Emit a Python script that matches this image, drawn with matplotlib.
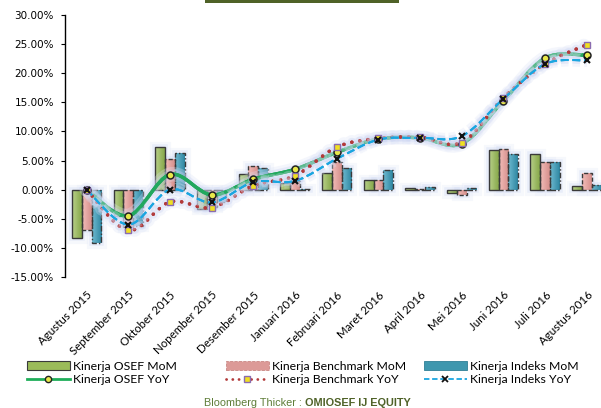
import numpy as np
import matplotlib
matplotlib.use("Agg")
import matplotlib.pyplot as plt
from matplotlib.path import Path
from matplotlib.patches import PathPatch, Patch, Rectangle
from matplotlib.lines import Line2D
from matplotlib.colors import LinearSegmentedColormap
from matplotlib.ticker import FuncFormatter
import matplotlib.patheffects as pe

# Data (persen)
bulan = ["Agustus 2015", "September 2015", "Oktober 2015", "Nopember 2015",
         "Desember 2015", "Januari 2016", "Februari 2016", "Maret 2016",
         "April 2016", "Mei 2016", "Juni 2016", "Juli 2016", "Agustus 2016"]

osef_mom = [-8.3, -4.6, 7.3, -3.3, 2.7, 1.1, 2.8, 1.7, 0.3, -0.6, 6.8, 6.1, 0.7]
bench_mom = [-6.9, -6.4, 5.3, -3.0, 4.1, 1.5, 4.7, 1.7, 0.1, -1.0, 7.0, 4.7, 2.8]
indeks_mom = [-9.1, -6.2, 6.3, -2.2, 3.7, 0.2, 3.7, 3.3, 0.4, 0.3, 6.2, 4.8, 0.8]

osef_yoy = [0.0, -4.5, 2.6, -0.9, 1.8, 3.5, 6.4, 8.7, 8.9, 7.9, 15.3, 22.6, 23.1]
bench_yoy = [0.0, -7.0, -2.1, -3.1, 0.7, 2.4, 7.3, 8.8, 9.0, 8.1, 15.8, 21.6, 24.9]
indeks_yoy = [0.0, -6.0, 0.0, -2.2, 1.3, 1.5, 5.3, 8.6, 8.9, 9.2, 15.6, 21.6, 22.2]

W, H = 601, 408
fig = plt.figure(figsize=(W / 100, H / 100), dpi=100)
ax = fig.add_axes([65 / W, 1 - 277 / H, (W - 65) / W, (277 - 15) / H])

x = np.arange(len(bulan))
lebar = 0.235


def batang(nilai, offset, c_kiri, c_kanan, ls, z):
    bars = ax.bar(x + offset, nilai, lebar, facecolor="none", edgecolor="#3a3a3a",
                  linewidth=1.0, linestyle=ls, zorder=z + 0.2)
    cmap = LinearSegmentedColormap.from_list("g", [c_kiri, c_kanan])
    grad = np.linspace(0, 1, 32).reshape(1, -1)
    for r in bars:
        x0, w = r.get_x(), r.get_width()
        y0, h = r.get_y(), r.get_height()
        bg = Rectangle((x0, y0), w, h, facecolor="none", edgecolor="none")
        ax.add_patch(bg)
        bg.set_path_effects([pe.withStroke(linewidth=8, foreground="#dfe5f7", alpha=0.25),
                             pe.withStroke(linewidth=4, foreground="#d0d9f4", alpha=0.35)])
        bg.set_zorder(z - 0.5)
        im = ax.imshow(grad, extent=[x0, x0 + w, min(y0, y0 + h), max(y0, y0 + h)],
                       aspect="auto", cmap=cmap, zorder=z, interpolation="bilinear")
        im.set_clip_path(r)
    return bars


batang(osef_mom, -lebar, "#b9d08a", "#86a84a", "-", 2)
batang(bench_mom, 0, "#f2bdb9", "#d68f8c", (0, (3, 1.5)), 2.1)
batang(indeks_mom, lebar, "#6fbad0", "#2f87a2", (0, (4, 1.5, 1, 1.5)), 2.2)


def kurva(nilai, warna, lw, ls, z, cap="butt"):
    p = np.column_stack([x, nilai]).astype(float)
    verts = [p[0]]
    codes = [Path.MOVETO]
    n = len(p)
    for i in range(n - 1):
        a = p[i - 1] if i > 0 else p[i]
        d = p[i + 2] if i + 2 < n else p[i + 1]
        c1 = p[i] + (p[i + 1] - a) / 6
        c2 = p[i + 1] - (d - p[i]) / 6
        verts += [c1, c2, p[i + 1]]
        codes += [Path.CURVE4] * 3
    patch = PathPatch(Path(verts, codes), fill=False, edgecolor=warna, linewidth=lw,
                      linestyle=ls, zorder=z, capstyle=cap)
    ax.add_patch(patch)
    patch.set_path_effects([pe.withStroke(linewidth=lw + 8, foreground="#dbe2f7", alpha=0.3),
                            pe.withStroke(linewidth=lw + 4, foreground="#c9d3f2", alpha=0.35),
                            pe.Normal()])
    return patch


kurva(osef_yoy, "#22a85e", 2.4, "-", 5)
kurva(bench_yoy, "#b23a3a", 2.4, (0, (0.05, 2.4)), 6, cap="round")
kurva(indeks_yoy, "#1aa6e0", 1.4, (0, (4, 2)), 7)

ax.plot(x, osef_yoy, ls="none", marker="o", ms=5, mfc="#e8e84a", mec="#222222", mew=1.1, zorder=8)
ax.plot(x, bench_yoy, ls="none", marker="s", ms=5, mfc="#f0e020", mec="#8a6cb0", mew=1.0, zorder=8)
ax.plot(x, indeks_yoy, ls="none", marker="x", ms=5, mec="#111111", mew=1.5, zorder=9)

ax.set_xlim(-0.52, 12.34)
ax.set_ylim(-15, 30)
ax.set_yticks(np.arange(-15, 31, 5))
ax.yaxis.set_major_formatter(FuncFormatter(lambda v, _: f"{v:.2f}%"))
ax.tick_params(axis="y", labelsize=7.5, length=3, width=0.8, pad=5, colors="#000000")
ax.set_xticks(x)
ax.set_xticklabels(bulan, rotation=45, ha="right", rotation_mode="anchor",
                   fontsize=8.3, family="Lato")
ax.tick_params(axis="x", length=0, pad=9)
for s in ["top", "right", "bottom"]:
    ax.spines[s].set_visible(False)
ax.spines["left"].set_linewidth(1.0)
ax.patch.set_alpha(0)

# legenda, tiga kolom
handles = [
    Patch(facecolor="#9bbb59", edgecolor="#3a3a3a", linewidth=0.8),
    Line2D([], [], color="#1fae5a", lw=2, marker="o", ms=4.5, mfc="#e8e84a", mec="#222222"),
    Patch(facecolor="#dc9a97", edgecolor="#c98784", linewidth=0.6, linestyle="--"),
    Line2D([], [], color="#b23a3a", lw=2, ls=(0, (0.05, 2.2)), dash_capstyle="round",
           marker="s", ms=4, mfc="#f0e020", mec="#8a6cb0"),
    Patch(facecolor="#3f97ae", edgecolor="#2f7f96", linewidth=0.6),
    Line2D([], [], color="#1aa6e0", lw=1.3, ls=(0, (3, 1.5)), marker="x", ms=4, mec="#111111", mew=1.3),
]
labels = ["Kinerja OSEF MoM", "Kinerja OSEF YoY", "Kinerja Benchmark MoM",
          "Kinerja Benchmark YoY", "Kinerja Indeks MoM", "Kinerja Indeks YoY"]
kolom_x = [27, 226, 424]
for k in range(3):
    lg = fig.legend(handles[2 * k:2 * k + 2], labels[2 * k:2 * k + 2], loc="center left",
                    bbox_to_anchor=(kolom_x[k] / W, 1 - 373 / H), frameon=False,
                    prop={"family": "Lato", "size": 8.8}, handlelength=3.5, handleheight=0.7,
                    handletextpad=0.25, labelspacing=0.2, borderaxespad=0, borderpad=0)

# garis hijau di atas
fig.patches.append(Rectangle((205 / W, 1 - 3 / H), 194 / W, 3 / H, transform=fig.transFigure,
                             facecolor="#4f6228", edgecolor="none"))

# sumber
r = fig.canvas.get_renderer()
t1 = fig.text(0, 1 - 403 / H, "Bloomberg Thicker : ", fontsize=7.8, family="Liberation Sans",
              color="#5e7d38", va="center")
t2 = fig.text(0, 1 - 403 / H, "OMIOSEF IJ EQUITY", fontsize=7.8, family="Liberation Sans",
              color="#4f6228", weight="bold", va="center")
w1 = t1.get_window_extent(r).width
w2 = t2.get_window_extent(r).width
x0 = 307 - (w1 + w2) / 2
t1.set_x(x0 / W)
t2.set_x((x0 + w1) / W)

fig.savefig("out.png", dpi=100)
